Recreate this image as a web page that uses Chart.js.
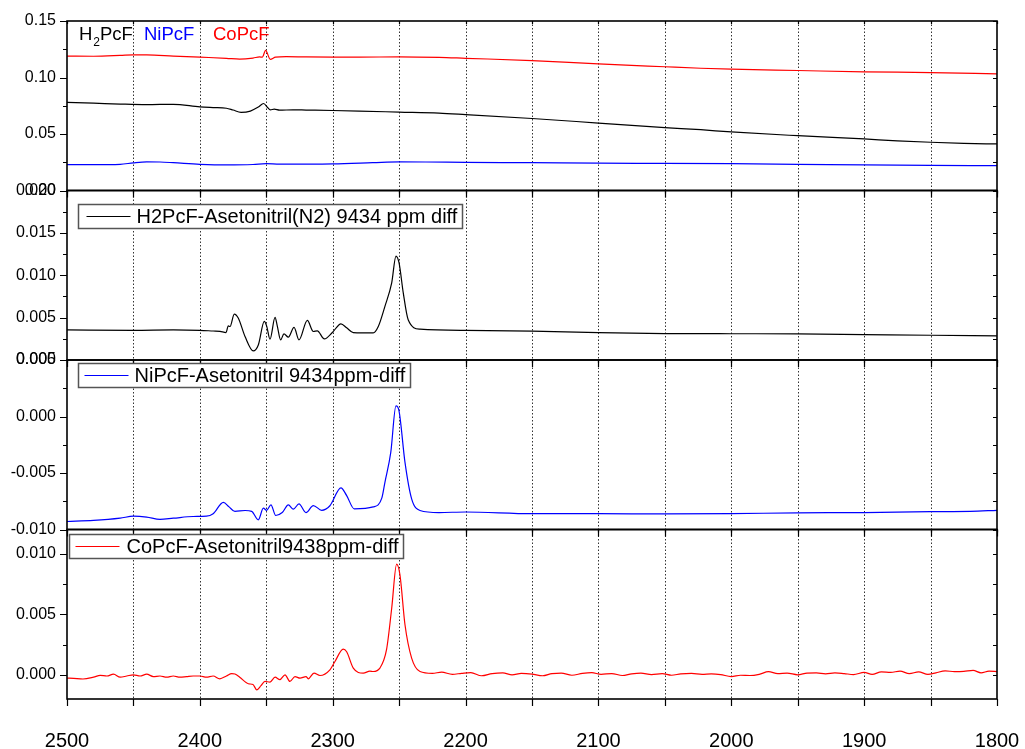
<!DOCTYPE html>
<html>
<head>
<meta charset="utf-8">
<script src="https://cdn.jsdelivr.net/npm/chart.js@4/dist/chart.umd.min.js"></script>
<style>
  html, body { margin: 0; padding: 0; background: #fff; }
  canvas { display: block; }
</style>
</head>
<body>
<canvas id="c" width="1025" height="749" style="width:1025px;height:749px"></canvas>
<script>
// ---- Raw spectra (top panel) ----
const wnH2Raw  = [2500,2480,2460,2440,2420,2400,2390,2380,2375,2369,2362,2356,2352,2349,2347,2344,2340,2330,2320,2300,2280,2250,2220,2200,2150,2100,2050,2023,2000,1950,1900,1875,1850,1825,1800];
const absH2Raw = [0.0780,0.0773,0.0765,0.0760,0.0763,0.0740,0.0734,0.0728,0.0712,0.0692,0.0703,0.0738,0.0770,0.0735,0.0714,0.0720,0.0711,0.0714,0.0712,0.0708,0.0703,0.0694,0.0685,0.0672,0.0637,0.0597,0.0557,0.0538,0.0518,0.0485,0.0456,0.0440,0.0427,0.0417,0.0412];

const wnNiRaw  = [2500,2480,2460,2450,2440,2430,2420,2400,2380,2360,2350,2340,2300,2270,2250,2230,2200,2150,2100,2050,2000,1950,1900,1850,1800];
const absNiRaw = [0.0229,0.0229,0.0232,0.0245,0.0253,0.0252,0.0246,0.0232,0.0226,0.0230,0.0238,0.0233,0.0236,0.0246,0.0253,0.0252,0.0249,0.0246,0.0242,0.0240,0.0237,0.0232,0.0226,0.0222,0.0220];

const wnCoRaw  = [2500,2480,2460,2450,2440,2420,2400,2380,2370,2360,2355,2353,2350.5,2347,2343,2335,2320,2300,2280,2250,2220,2200,2150,2100,2050,2023,2000,1950,1900,1850,1800];
const absCoRaw = [0.1190,0.1188,0.1195,0.1200,0.1200,0.1190,0.1180,0.1170,0.1163,0.1172,0.1182,0.1180,0.1240,0.1160,0.1180,0.1185,0.1182,0.1180,0.1180,0.1183,0.1178,0.1170,0.1150,0.1120,0.1095,0.1082,0.1074,0.1062,0.1050,0.1044,0.1032];

// ---- Difference spectra ----
const wnH2Diff  = [2500,2450,2420,2400,2390,2384.8,2380.3,2378.6,2377.3,2374.1,2371.1,2366,2359.8,2356,2351.5,2349.7,2347.2,2343.4,2341.7,2339.2,2336.7,2333.4,2329.1,2325.4,2319.1,2314.6,2311.6,2306.3,2300.3,2293.8,2289.5,2284.5,2269.5,2265.7,2260.7,2255.6,2252.4,2250.1,2246.9,2243.2,2234.3,2200,2150,2100,2050,2000,1950,1900,1850,1800];
const absH2Diff = [0.00356,0.00350,0.00355,0.00350,0.00342,0.00338,0.00324,0.00403,0.00395,0.00542,0.00495,0.00277,0.00107,0.00178,0.00455,0.00400,0.00245,0.00502,0.00400,0.00237,0.00309,0.00269,0.00384,0.00237,0.00467,0.00336,0.00344,0.00249,0.00324,0.00427,0.00380,0.00324,0.00320,0.00395,0.00633,0.00910,0.01226,0.01148,0.00792,0.00475,0.00364,0.00350,0.00340,0.00322,0.00312,0.00310,0.00308,0.00300,0.00292,0.00285];

const wnNiDiff  = [2500,2480,2460,2450,2440,2430,2420,2405,2395,2390,2382.3,2378,2373.6,2366,2361,2356,2352.2,2349.7,2346.5,2342.9,2338,2333.4,2329.6,2325.4,2320.1,2314.6,2308.3,2302.1,2293.8,2289.5,2283.8,2269.5,2263,2260.7,2256.3,2252.4,2250.1,2245.6,2240.6,2234.3,2220,2200,2150,2100,2050,2000,1950,1900,1850,1820,1800];
const absNiDiff = [-0.00929,-0.00920,-0.00900,-0.00882,-0.00890,-0.00910,-0.00900,-0.00885,-0.00882,-0.00860,-0.00760,-0.00800,-0.00840,-0.00832,-0.00840,-0.00914,-0.00811,-0.00830,-0.00782,-0.00876,-0.00850,-0.00782,-0.00820,-0.00773,-0.00850,-0.00788,-0.00830,-0.00790,-0.00632,-0.00700,-0.00817,-0.00800,-0.00720,-0.00582,-0.00318,0.00094,0.00050,-0.00406,-0.00729,-0.00832,-0.00850,-0.00845,-0.00860,-0.00860,-0.00862,-0.00860,-0.00852,-0.00850,-0.00842,-0.00840,-0.00830];

const wnCoDiff  = [2500,2495,2488,2480,2475,2470,2465,2460,2455,2450,2445,2440,2435,2430,2425,2420,2415,2410,2405,2400,2395,2390,2385,2380,2376,2373.6,2370,2363.5,2360,2357.2,2354,2351,2347.2,2343.4,2339.7,2335.9,2332.2,2328.4,2324.6,2320.1,2318.4,2314.1,2309.6,2302.1,2298.3,2292.1,2289.5,2284.5,2277,2272,2269.5,2264.5,2259.5,2255.6,2251.9,2249.4,2245.6,2240.6,2234.3,2225,2218,2210,2203,2196,2188,2180,2172,2165,2158,2150,2142,2135,2128,2120,2112,2105,2098,2090,2082,2075,2068,2060,2052,2045,2038,2030,2022,2015,2008,2000,1993,1986,1979,1972,1965,1958,1950,1943,1936,1929,1922,1915,1908,1900,1894,1887,1880,1873,1866,1859,1852,1846,1839,1832,1825,1818,1812,1806,1800];
const absCoDiff = [-0.00027,-0.00030,-0.00035,-0.00020,-0.00005,-0.00010,0.00005,-0.00020,-0.00010,0.00000,-0.00010,0.00005,-0.00015,-0.00010,-0.00020,-0.00010,-0.00020,-0.00015,-0.00010,-0.00010,-0.00020,-0.00010,-0.00033,-0.00010,0.00010,0.00006,-0.00020,-0.00074,-0.00080,-0.00124,-0.00090,-0.00055,-0.00060,-0.00020,-0.00040,0.00000,-0.00055,-0.00015,-0.00028,-0.00015,-0.00033,0.00014,-0.00006,0.00041,0.00110,0.00212,0.00190,0.00055,0.00014,0.00030,0.00027,0.00055,0.00207,0.00550,0.00914,0.00826,0.00413,0.00138,0.00027,0.00012,0.00022,0.00004,0.00012,0.00018,-0.00008,0.00010,0.00016,0.00000,0.00012,0.00006,-0.00008,0.00010,0.00014,-0.00004,0.00012,0.00018,0.00004,0.00010,-0.00006,0.00008,0.00014,0.00002,0.00010,-0.00004,0.00008,0.00012,0.00004,0.00008,0.00002,-0.00015,-0.00004,-0.00006,0.00004,0.00026,0.00010,0.00014,0.00000,0.00014,0.00016,0.00008,0.00016,0.00010,0.00002,0.00020,0.00004,0.00024,0.00020,0.00030,0.00010,0.00024,0.00004,0.00016,0.00032,0.00026,0.00028,0.00036,0.00016,0.00030,0.00026];

// ---- Axis ranges and tick steps for the four stacked panels ----
const xRange     = [1800, 2500];
const xTickStep  = 50;
const xLabelStep = 100;
const panelRanges  = [[0, 0.15], [0, 0.020], [-0.010, 0.005], [-0.002, 0.012]];
const panelSteps   = [0.025, 0.0025, 0.0025, 0.0025];
const panelMajors  = [0.05, 0.005, 0.005, 0.005];
const panelDigits  = [2, 3, 3, 3];

const seriesLabels = ['H\u2082PcF', 'NiPcF', 'CoPcF',
  'H2PcF-Asetonitril(N2) 9434 ppm diff', 'NiPcF-Asetonitril 9434ppm-diff', 'CoPcF-Asetonitril9438ppm-diff'];

const FONT = '"Liberation Sans", Arial, sans-serif';
Chart.defaults.font.family = FONT;
Chart.defaults.color = '#000';

const pts = (ws, vs) => ws.map((w, i) => ({ x: w, y: vs[i] }));
const isMult = (v, step) => { const r = v / step; return Math.abs(r - Math.round(r)) < 1e-6; };
const fmt = (v, d) => (Math.abs(v) < 1e-9 ? 0 : v).toFixed(d);

const yIds = ['y1', 'y2', 'y3', 'y4'];

function yAxis(i) {
  return {
    type: 'linear', position: 'left', stack: 'panels', stackWeight: 1, weight: 4 - i,
    min: panelRanges[i][0], max: panelRanges[i][1],
    grid: { display: false, drawTicks: false }, border: { display: false },
    ticks: {
      stepSize: panelSteps[i], padding: 11, autoSkip: false, includeBounds: false, color: '#000',
      font: { size: 16, family: FONT },
      callback: v => isMult(v, panelMajors[i]) ? fmt(v, panelDigits[i]) : ''
    },
    afterFit: s => { s.width = 67; s.paddingTop = 0; s.paddingBottom = 0; }
  };
}

// Frames, ticks, dotted grid and the in-panel legends
const panelDecor = {
  id: 'panelDecor',
  beforeDatasetsDraw(chart) {
    const { ctx, chartArea: ca, scales } = chart;
    const xs = scales.x;
    ctx.save();
    ctx.strokeStyle = '#333';
    ctx.lineWidth = 1;
    ctx.setLineDash([1.5, 2]);
    xs.ticks.forEach(t => {
      if (t.value <= xRange[0] || t.value >= xRange[1]) return;
      const px = Math.round(xs.getPixelForValue(t.value)) + 0.5;
      ctx.beginPath();
      ctx.moveTo(px, ca.top);
      ctx.lineTo(px, ca.bottom);
      ctx.stroke();
    });
    ctx.restore();
  },
  afterDatasetsDraw(chart) {
    const { ctx, chartArea: ca, scales } = chart;
    const xs = scales.x;
    const ds = chart.data.datasets;
    ctx.save();
    ctx.strokeStyle = '#000';
    ctx.lineCap = 'butt';

    yIds.forEach((id, i) => {
      const s = scales[id];
      // y ticks: outward on the left, inward on the right
      ctx.lineWidth = 1.2;
      s.ticks.forEach(t => {
        if (!isMult(t.value, panelSteps[i])) return;
        const major = isMult(t.value, panelMajors[i]);
        const py = Math.round(s.getPixelForValue(t.value)) + 0.5;
        ctx.beginPath();
        ctx.moveTo(ca.left - (major ? 7 : 4), py);
        ctx.lineTo(ca.left, py);
        ctx.moveTo(ca.right - 4, py);
        ctx.lineTo(ca.right, py);
        ctx.stroke();
      });
      // x ticks along the top (inward) and bottom (outward) of each panel
      xs.ticks.forEach(t => {
        const px = Math.round(xs.getPixelForValue(t.value)) + 0.5;
        ctx.beginPath();
        ctx.moveTo(px, s.top);
        ctx.lineTo(px, s.top + 3);
        ctx.moveTo(px, s.bottom);
        ctx.lineTo(px, s.bottom + 7);
        ctx.stroke();
      });
      // panel frame
      ctx.lineWidth = 1.6;
      ctx.strokeRect(ca.left, s.top, ca.right - ca.left, s.bottom - s.top);
    });

    // legend of the raw-spectra panel: coloured names in a row
    const s1 = scales.y1;
    let x = ca.left + 12;
    const base = s1.top + 19;
    ctx.textBaseline = 'alphabetic';
    ctx.textAlign = 'left';
    ctx.font = '18.5px ' + FONT;
    ctx.fillStyle = ds[0].borderColor;
    ctx.fillText('H', x, base); x += ctx.measureText('H').width;
    ctx.font = '12px ' + FONT;
    ctx.fillText('2', x + 1, base + 6); x += ctx.measureText('2').width + 1;
    ctx.font = '18.5px ' + FONT;
    ctx.fillText('PcF', x, base);
    ctx.fillStyle = ds[1].borderColor;
    ctx.fillText(ds[1].label, ca.left + 77, base);
    ctx.fillStyle = ds[2].borderColor;
    ctx.fillText(ds[2].label, ca.left + 146, base);

    // boxed legends of the difference panels
    const boxes = [
      { id: 'y2', ds: 3, dx: 11, dy: 13.5, l0: 8, l1: 52, tx: 58 },
      { id: 'y3', ds: 4, dx: 11, dy: 3,    l0: 6, l1: 50, tx: 56 },
      { id: 'y4', ds: 5, dx: 2,  dy: 4,    l0: 6, l1: 50, tx: 57 }
    ];
    boxes.forEach(b => {
      const s = scales[b.id];
      const d = ds[b.ds];
      const left = Math.round(ca.left + b.dx) + 0.5;
      const top = Math.round(s.top + b.dy) + 0.5;
      ctx.font = '20px ' + FONT;
      const tw = ctx.measureText(d.label).width;
      const w = Math.round(b.tx + tw + 5);
      const h = 24;
      ctx.fillStyle = '#fff';
      ctx.fillRect(left, top, w, h);
      ctx.strokeStyle = '#555';
      ctx.lineWidth = 1.5;
      ctx.strokeRect(left, top, w, h);
      ctx.strokeStyle = d.borderColor;
      ctx.lineWidth = 1.2;
      ctx.beginPath();
      ctx.moveTo(left + b.l0, top + h / 2);
      ctx.lineTo(left + b.l1, top + h / 2);
      ctx.stroke();
      ctx.fillStyle = '#000';
      ctx.textBaseline = 'middle';
      ctx.fillText(d.label, left + b.tx, top + h / 2 + 1);
    });
    ctx.restore();
  }
};

const line = (label, ws, vs, axis, color) => ({
  label, data: pts(ws, vs), yAxisID: axis, borderColor: color, backgroundColor: color,
  borderWidth: 1.2, pointRadius: 0, fill: false, cubicInterpolationMode: 'monotone'
});

const scaleOpts = {
  x: {
    type: 'linear', position: 'bottom', reverse: true, min: xRange[0], max: xRange[1],
    grid: { display: false }, border: { display: false },
    ticks: {
      stepSize: xTickStep, autoSkip: false, maxRotation: 0, padding: 22, color: '#000',
      font: { size: 20, family: FONT },
      callback: v => isMult(v, xLabelStep) ? String(v) : ''
    },
    afterFit: s => { s.height = 50; s.paddingLeft = 0; s.paddingRight = 0; }
  }
};
yIds.forEach((id, i) => { scaleOpts[id] = yAxis(i); });

new Chart(document.getElementById('c'), {
  type: 'line',
  data: {
    datasets: [
      line(seriesLabels[0], wnH2Raw, absH2Raw, 'y1', '#000000'),
      line(seriesLabels[1], wnNiRaw, absNiRaw, 'y1', '#0000ff'),
      line(seriesLabels[2], wnCoRaw, absCoRaw, 'y1', '#ff0000'),
      line(seriesLabels[3], wnH2Diff, absH2Diff, 'y2', '#000000'),
      line(seriesLabels[4], wnNiDiff, absNiDiff, 'y3', '#0000ff'),
      line(seriesLabels[5], wnCoDiff, absCoDiff, 'y4', '#ff0000')
    ]
  },
  options: {
    responsive: false, animation: false, devicePixelRatio: 1,
    layout: { padding: { top: 21, right: 28, bottom: 0, left: 0 } },
    plugins: { legend: { display: false }, tooltip: { enabled: false } },
    scales: scaleOpts
  },
  plugins: [panelDecor]
});
</script>
</body>
</html>
